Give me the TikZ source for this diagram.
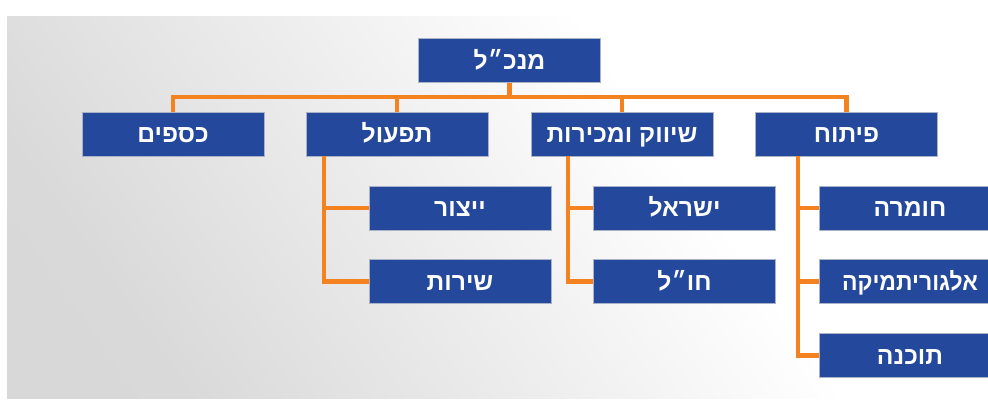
\documentclass[tikz,border=0pt]{standalone}
\usepackage{fontspec}
\newfontfamily\hebfont[Script=Hebrew]{Liberation Sans}
\TeXXeTstate=1
\definecolor{boxblue}{RGB}{36,73,156}
\definecolor{lineorange}{RGB}{245,130,32}
\definecolor{boxedge}{RGB}{170,178,200}
\pgfdeclarehorizontalshading{bgshade}{100bp}{color(0bp)=(black!16); color(25bp)=(black!15); color(45bp)=(black!7); color(62bp)=(white); color(100bp)=(white)}
\newcommand{\heb}[1]{{\hebfont\bfseries\beginR #1\endR}}

\begin{document}
\begin{tikzpicture}[x=0.75pt,y=0.75pt,yscale=-1,xscale=1,
  box/.style={fill=boxblue, draw=boxedge, line width=0.5pt, text=white,
    minimum width=136.5pt, minimum height=33pt, inner sep=0pt,
    font=\fontsize{18.5}{22}\selectfont, text height=13pt, text depth=0pt},
  conn/.style={draw=lineorange, line width=3.4pt}]
\useasboundingbox (0,0) rectangle (988,406);

% Background
\shade[shading=bgshade, shading angle=35] (7,17) rectangle (988,398);

% Boxes
\node[box] (ceo) at (509.5,60.5) {\heb{מנכ״ל}};
\node[box] (fin) at (173,134) {\heb{כספים}};
\node[box] (ops) at (397,134) {\heb{תפעול}};
\node[box] (mkt) at (622,134) {\heb{שיווק ומכירות}};
\node[box] (dev) at (846.5,134) {\heb{פיתוח}};
\node[box] (prod) at (460,208) {\heb{ייצור}};
\node[box] (serv) at (460,281.5) {\heb{שירות}};
\node[box] (isr) at (684.5,208) {\heb{ישראל}};
\node[box] (abr) at (684.5,281.5) {\heb{חו״ל}};
\node[box] (hw) at (910,208) {\heb{חומרה}};
\node[box] (alg) at (910,281.5) {\scalebox{0.93}[1]{\heb{אלגוריתמיקה}}};
\node[box] (sw) at (910,355.5) {\heb{תוכנה}};

% Connectors, top level
\coordinate (bus) at (509.5,97);
\draw[conn] (ceo.south) -- (ceo.south |- bus);
\draw[conn] (fin.north) -- (fin.north |- bus) -- (dev.north |- bus) -- (dev.north);
\draw[conn] (ops.north) -- (ops.north |- bus);
\draw[conn] (mkt.north) -- (mkt.north |- bus);

% Connectors, second level
\coordinate (opsbar) at (324,156);
\coordinate (mktbar) at (568,156);
\coordinate (devbar) at (798,156);
\draw[conn] (opsbar) |- (serv.west);
\draw[conn] (opsbar |- prod.west) -- (prod.west);
\draw[conn] (mktbar) |- (abr.west);
\draw[conn] (mktbar |- isr.west) -- (isr.west);
\draw[conn] (devbar) |- (sw.west);
\draw[conn] (devbar |- hw.west) -- (hw.west);
\draw[conn] (devbar |- alg.west) -- (alg.west);

\end{tikzpicture}
\end{document}
